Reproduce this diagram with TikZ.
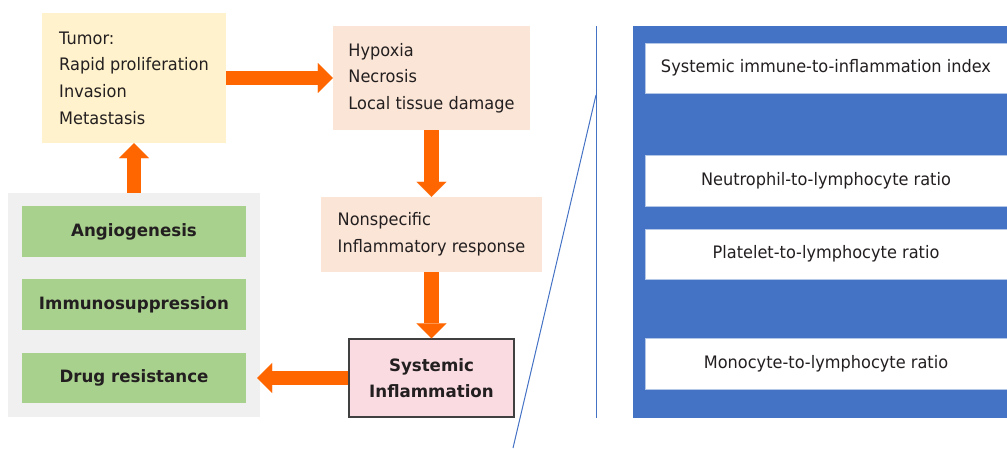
\documentclass[tikz,border=0pt]{standalone}
\usepackage{fontspec}
\setmainfont{DejaVu Sans}[FakeStretch=0.94, BoldFeatures={FakeStretch=0.98}]
\usetikzlibrary{arrows.meta}
\definecolor{tumorY}{HTML}{FFF2CC}
\definecolor{peach}{HTML}{FBE5D6}
\definecolor{grayBg}{HTML}{F0F0F0}
\definecolor{greenB}{HTML}{A9D18E}
\definecolor{pinkB}{HTML}{F9DBE1}
\definecolor{blueP}{HTML}{4472C4}
\definecolor{orangeA}{HTML}{FF6600}
\definecolor{txt}{HTML}{231F20}
\definecolor{borderD}{HTML}{404040}
\tikzset{
  every node/.style={font=\fontsize{17.2}{26.7}\selectfont, text=txt, inner sep=0pt},
  boxL/.style={align=left},
  boxC/.style={align=center, font=\fontsize{17}{26.2}\selectfont\bfseries},
  greenbox/.style={boxC, fill=greenB, minimum width=224pt, minimum height=51pt},
  whitebox/.style={align=center, fill=white, draw=blueP!40, line width=0.6pt, minimum width=362pt, minimum height=51pt},
  arr/.style={draw=orangeA, line width=14.5pt, -{Triangle[width=30pt,length=15pt,line width=0.1pt]}},
  blueline/.style={draw=blueP, line width=1pt}
}
\begin{document}
\begin{tikzpicture}[x=1pt,y=-1pt]
\useasboundingbox (0,0) rectangle (1007,448);
% left column
\node[boxL, fill=tumorY, minimum width=184pt, minimum height=130pt] (tumor) at (134,78) {Tumor:\\Rapid proliferation\\Invasion\\Metastasis};
\node[boxL, fill=peach, minimum width=197pt, minimum height=104pt] (hyp) at (431.5,78) {Hypoxia\\Necrosis\\Local tissue damage};
\node[boxL, fill=peach, minimum width=221pt, minimum height=75pt] (nonspec) at (431.5,234.5) {Nonspecific\\Inflammatory response};
\node[boxC, fill=pinkB, draw=borderD, line width=1.5pt, minimum width=165pt, minimum height=78pt] (sys) at (431.5,378) {Systemic\\Inflammation};
\node[fill=grayBg, minimum width=252pt, minimum height=224pt] (gray) at (134,305) {};
\node[greenbox] (angio) at (134,231.5) {Angiogenesis};
\node[greenbox] (immuno) at (134,304.5) {Immunosuppression};
\node[greenbox, minimum height=50pt] (drug) at (134,378) {Drug resistance};
% arrows
\draw[arr] (tumor.east) -- (hyp.west);
\draw[arr] (hyp.south) -- (nonspec.north);
\draw[arr] (nonspec.south) -- (sys.north);
\path (sys.west -| gray.east) ++(-3,0) coordinate (lt);
\draw[arr] (sys.west) -- (lt);
\draw[arr] (gray.north) -- (tumor.south);
% blue lines
\coordinate (vtop) at (596,26);
\coordinate (vbot) at (596,418);
\coordinate (dtop) at (596,95);
\coordinate (dbot) at (513,448);
\draw[blueline] (vtop) -- (vbot);
\draw[blueline] (dtop) -- (dbot);
% right panel
\node[fill=blueP, minimum width=374pt, minimum height=392pt] (panel) at (820,222) {};
\node[whitebox, minimum height=50pt] (sii) at (826,68) {Systemic immune-to-inflammation index};
\node[whitebox] (nlr) at (826,180.5) {Neutrophil-to-lymphocyte ratio};
\node[whitebox, minimum height=50pt] (plr) at (826,254) {Platelet-to-lymphocyte ratio};
\node[whitebox] (mlr) at (826,364) {Monocyte-to-lymphocyte ratio};
\end{tikzpicture}
\end{document}
